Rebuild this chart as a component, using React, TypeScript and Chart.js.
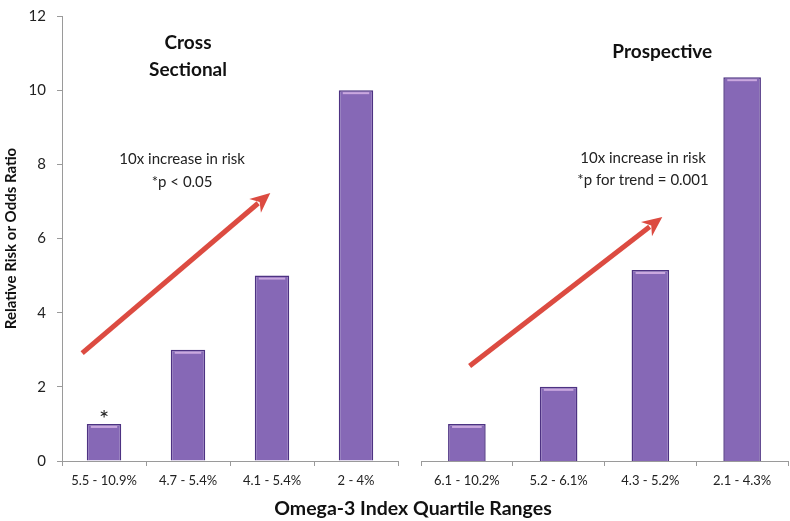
import React, { useEffect, useRef } from "react";
import { Chart, registerables } from "chart.js";

Chart.register(...registerables);

// ---- data ----
const leftCategories = ["5.5 - 10.9%", "4.7 - 5.4%", "4.1 - 5.4%", "2 - 4%"];
const leftValues = [1, 3, 5, 10];
const rightCategories = ["6.1 - 10.2%", "5.2 - 6.1%", "4.3 - 5.2%", "2.1 - 4.3%"];
const rightValues = [1, 2, 5.15, 10.35];
const yMin = 0;
const yMax = 12;
const yStep = 2;
const yTitle = "Relative Risk or Odds Ratio";
const xTitle = "Omega-3 Index Quartile Ranges";

// annotations in data units (x = category index, y = value)
const leftTexts = [
  { text: "Cross", x: 1.0, y: 11.27, bold: true, size: 19 },
  { text: "Sectional", x: 1.0, y: 10.54, bold: true, size: 19 },
  { text: "10x increase in risk", x: 0.93, y: 8.14, bold: false, size: 15 },
  { text: "*p < 0.05", x: 0.93, y: 7.52, bold: false, size: 15 },
  { text: "*", x: 0.0, y: 1.12, bold: false, size: 24 },
];
const leftArrows = [{ x0: -0.26, y0: 2.91, x1: 1.98, y1: 7.23 }];
const rightTexts = [
  { text: "Prospective", x: 2.13, y: 11.03, bold: true, size: 19 },
  { text: "10x increase in risk", x: 1.92, y: 8.17, bold: false, size: 15 },
  { text: "*p for trend = 0.001", x: 1.92, y: 7.58, bold: false, size: 15 },
];
const rightArrows = [{ x0: 0.03, y0: 2.56, x1: 2.13, y1: 6.58 }];

const FONT = "Lato, 'Open Sans', sans-serif";
const BAR_FILL = "#8668b6";
const BAR_EDGE = "#4d3282";
const ARROW = "#dc4b41";
const AXIS = "#9a9a9a";

const barHighlightPlugin = {
  id: "barHighlight",
  afterDatasetsDraw(chart: any) {
    const ctx = chart.ctx;
    const meta = chart.getDatasetMeta(0);
    ctx.save();
    meta.data.forEach((el: any) => {
      const w = el.width;
      ctx.strokeStyle = "rgba(214,180,230,0.85)";
      ctx.lineWidth = 2;
      ctx.beginPath();
      ctx.moveTo(el.x - w / 2 + 4, el.y + 3);
      ctx.lineTo(el.x + w / 2 - 4, el.y + 3);
      ctx.stroke();
    });
    ctx.restore();
  },
};

const annotPlugin = {
  id: "annot",
  afterDatasetsDraw(chart: any, _args: any, opts: any) {
    const ctx = chart.ctx;
    const xs = chart.scales.x;
    const ys = chart.scales.y;
    const px = (v: number) => xs.getPixelForValue(0) + v * (xs.getPixelForValue(1) - xs.getPixelForValue(0));
    const py = (v: number) => ys.getPixelForValue(v);
    ctx.save();
    (opts.arrows || []).forEach((a: any) => {
      const x0 = px(a.x0), y0 = py(a.y0), x1 = px(a.x1), y1 = py(a.y1);
      const ang = Math.atan2(y1 - y0, x1 - x0);
      const headLen = 20, headW = 9;
      const bx = x1 - Math.cos(ang) * (headLen - 4);
      const by = y1 - Math.sin(ang) * (headLen - 4);
      ctx.strokeStyle = ARROW;
      ctx.lineWidth = 5;
      ctx.lineCap = "butt";
      ctx.beginPath();
      ctx.moveTo(x0, y0);
      ctx.lineTo(bx, by);
      ctx.stroke();
      ctx.fillStyle = ARROW;
      ctx.beginPath();
      ctx.moveTo(x1, y1);
      const hx = x1 - Math.cos(ang) * headLen;
      const hy = y1 - Math.sin(ang) * headLen;
      ctx.lineTo(hx + Math.sin(ang) * headW, hy - Math.cos(ang) * headW);
      ctx.lineTo(x1 - Math.cos(ang) * (headLen - 6), y1 - Math.sin(ang) * (headLen - 6));
      ctx.lineTo(hx - Math.sin(ang) * headW, hy + Math.cos(ang) * headW);
      ctx.closePath();
      ctx.fill();
    });
    (opts.texts || []).forEach((t: any) => {
      ctx.font = `${t.bold ? "bold " : ""}${t.size}px ${FONT}`;
      ctx.fillStyle = t.bold ? "#111" : "#222";
      ctx.textAlign = "center";
      ctx.textBaseline = "middle";
      ctx.fillText(t.text, px(t.x), py(t.y));
    });
    ctx.restore();
  },
};

function makeConfig(labels: string[], values: number[], isLeft: boolean, texts: any[], arrows: any[]): any {
  return {
    type: "bar",
    data: {
      labels,
      datasets: [
        {
          data: values,
          backgroundColor: BAR_FILL,
          borderColor: BAR_EDGE,
          borderWidth: 1.5,
          categoryPercentage: 1,
          barPercentage: 0.41,
        },
      ],
    },
    plugins: [barHighlightPlugin, annotPlugin],
    options: {
      responsive: false,
      animation: false,
      layout: { padding: { left: isLeft ? 0 : 21, right: 2, top: 16, bottom: 0 } },
      plugins: {
        legend: { display: false },
        tooltip: { enabled: false },
        annot: { texts, arrows },
      },
      scales: {
        x: {
          afterFit: (s: any) => {
            s.height = 60;
            s.paddingLeft = 0;
            s.paddingRight = 0;
          },
          grid: { drawOnChartArea: false, drawTicks: true, tickLength: 5, color: AXIS, offset: true },
          border: { display: true, color: AXIS, width: 1 },
          ticks: { color: "#222", font: { family: FONT, size: 13 }, padding: 7, maxRotation: 0, autoSkip: false },
        },
        y: {
          display: isLeft,
          min: yMin,
          max: yMax,
          afterFit: (s: any) => {
            if (isLeft) s.width = 62;
            s.paddingTop = 0;
            s.paddingBottom = 0;
          },
          grid: { drawOnChartArea: false, drawTicks: true, tickLength: 5, color: AXIS },
          border: { display: true, color: AXIS, width: 1 },
          ticks: { stepSize: yStep, color: "#222", font: { family: FONT, size: 15 }, padding: 11 },
          title: {
            display: isLeft,
            text: yTitle,
            color: "#111",
            font: { family: FONT, size: 15, weight: "bold" },
            padding: { top: 2, bottom: 0 },
          },
        },
      },
    },
  };
}

export default function App() {
  const leftRef = useRef<HTMLCanvasElement>(null);
  const rightRef = useRef<HTMLCanvasElement>(null);
  useEffect(() => {
    document.body.style.margin = "0";
    const c1 = new Chart(leftRef.current as HTMLCanvasElement, makeConfig(leftCategories, leftValues, true, leftTexts, leftArrows));
    const c2 = new Chart(rightRef.current as HTMLCanvasElement, makeConfig(rightCategories, rightValues, false, rightTexts, rightArrows));
    return () => {
      c1.destroy();
      c2.destroy();
    };
  }, []);
  return (
    <div style={{ position: "relative", width: 790, height: 521, overflow: "hidden", background: "#fff" }}>
      <canvas ref={leftRef} width={400} height={521} style={{ position: "absolute", left: 0, top: 0, display: "block" }} />
      <canvas ref={rightRef} width={390} height={521} style={{ position: "absolute", left: 400, top: 0, display: "block" }} />
      <div
        style={{
          position: "absolute",
          left: 113,
          width: 600,
          top: 496,
          textAlign: "center",
          fontFamily: FONT,
          fontWeight: "bold",
          fontSize: 19.5,
          color: "#111",
          lineHeight: "24px",
        }}
      >
        {xTitle}
      </div>
    </div>
  );
}
